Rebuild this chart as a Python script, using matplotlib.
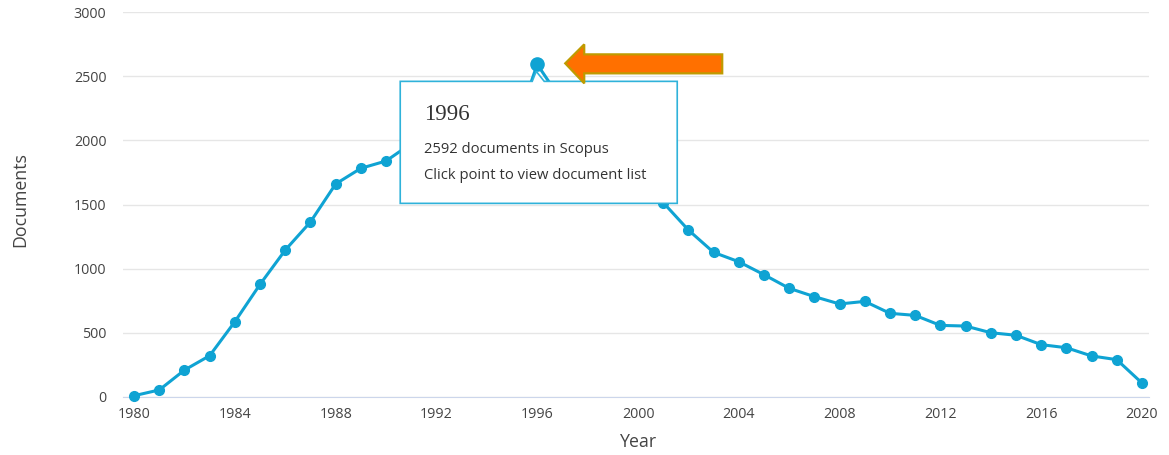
import matplotlib
matplotlib.use("Agg")
import matplotlib.pyplot as plt
from matplotlib.patches import Polygon
from matplotlib.transforms import ScaledTranslation

# documents per year (1991-1995 and 1998-2000 are hidden by the tooltip, estimated)
years = list(range(1980, 2021))
documents = [10, 55, 210, 322, 587, 878, 1145, 1364, 1660, 1782,
             1839, 1975, 1990, 2000, 2010, 2020, 2592, 2300, 2050, 1900,
             1720, 1515, 1301, 1127, 1054, 953, 847, 782, 725, 745,
             652, 636, 558, 553, 501, 481, 408, 384, 320, 291,
             109]
highlight_year = 1996
tooltip_lines = ["2592 documents in Scopus", "Click point to view document list"]
xticks = list(range(1980, 2021, 4))
yticks = [0, 500, 1000, 1500, 2000, 2500, 3000]

LINE = "#0fa3d3"
TEXT = "#444444"
plt.rcParams["font.family"] = ["Open Sans", "DejaVu Sans"]

fig = plt.figure(figsize=(11.69, 4.55), dpi=100)
ax = fig.add_axes([123 / 1169, 1 - 397 / 455, (1149 - 123) / 1169, (397 - 12) / 455])

ax.plot(years, documents, color=LINE, lw=2.2, marker="o", ms=7, zorder=3, clip_on=False)
hi = years.index(highlight_year)
ax.plot([years[hi]], [documents[hi]], "o", color=LINE, ms=9.5, zorder=4, clip_on=False)

ax.set_xlim(1979.56, 2020.28)
ax.set_ylim(0, 3000)
ax.set_xticks(xticks)
ax.set_yticks(yticks)
ax.tick_params(length=0, labelsize=10.3, labelcolor=TEXT)
ax.tick_params(axis="x", pad=7)
ax.tick_params(axis="y", pad=12)
ax.grid(axis="y", color="#e6e6e6", lw=1)
ax.set_axisbelow(True)
for s in ["top", "right", "left"]:
    ax.spines[s].set_visible(False)
ax.spines["bottom"].set_color("#ccd6eb")
ax.set_xlabel("Year", fontsize=12.8, color=TEXT)
ax.set_ylabel("Documents", fontsize=12.8, color=TEXT)
ax.xaxis.set_label_coords(0.502, -0.093)
ax.yaxis.set_label_coords(-0.091, 0.512)

# shapes placed in pixel offsets from the highlighted point
def px(dx, dy):
    return (dx / 100, dy / 100)

anchor = fig.dpi_scale_trans + ScaledTranslation(years[hi], documents[hi], ax.transData)

box = Polygon([px(-137, -17), px(-5, -17), px(-1, -7), px(7, -17), px(140, -17),
               px(140, -139), px(-137, -139)],
              closed=True, transform=anchor, facecolor="white", edgecolor="#2fb2da",
              lw=1.2, zorder=10, clip_on=False)
ax.add_patch(box)
ax.text(*px(-113, -50), str(highlight_year), transform=anchor, fontsize=16.5, color="#333333",
        va="center", ha="left", zorder=11, family=["Liberation Serif", "DejaVu Serif"])
ax.text(*px(-113, -85), tooltip_lines[0], transform=anchor, fontsize=10.6, color="#333333",
        va="center", ha="left", zorder=11)
ax.text(*px(-113, -111), tooltip_lines[1], transform=anchor, fontsize=10.6, color="#333333",
        va="center", ha="left", zorder=11)

arrow = Polygon([px(28, 1), px(47, 20), px(47, 10), px(185, 10), px(185, -9),
                 px(47, -9), px(47, -19)],
                closed=True, transform=anchor, facecolor="#ff7000", edgecolor="#bf9b00",
                lw=1.6, zorder=12, clip_on=False)
ax.add_patch(arrow)

fig.savefig("out.png", dpi=100)
